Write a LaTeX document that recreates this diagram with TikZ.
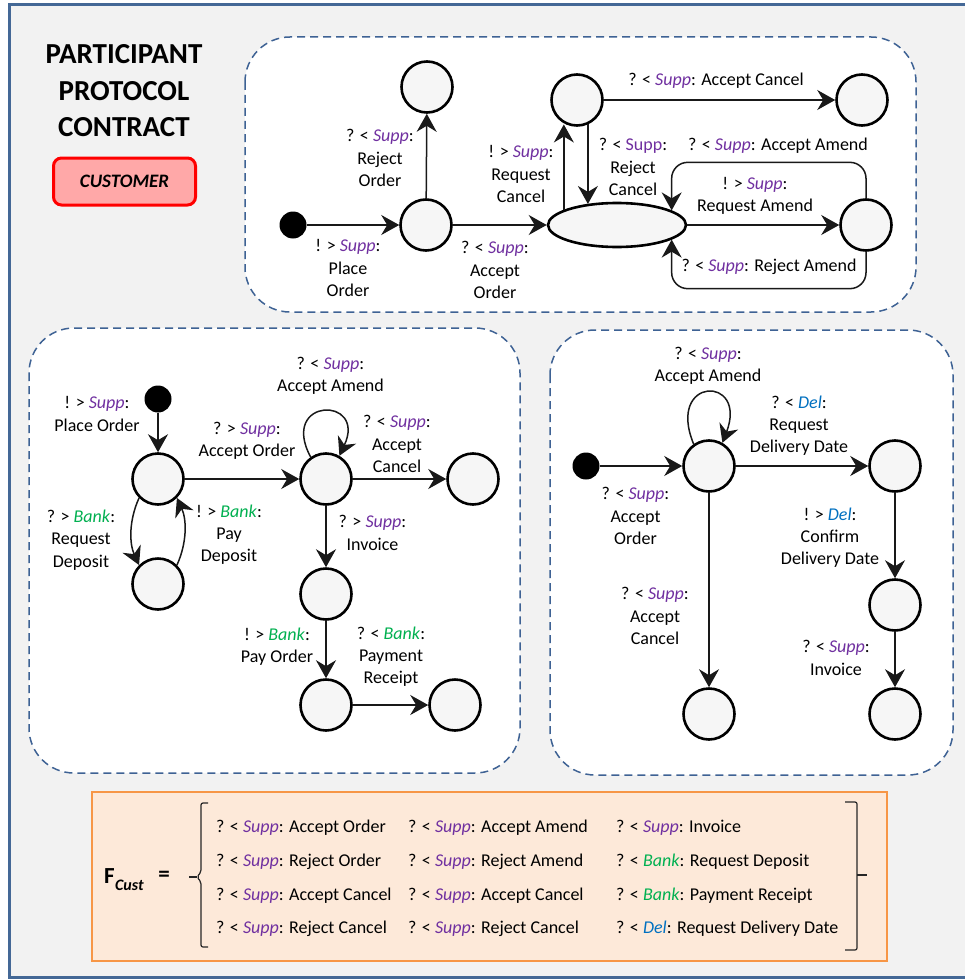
\documentclass[tikz,border=0pt]{standalone}
\usepackage{fontspec}
\setmainfont{Carlito}
\usetikzlibrary{arrows.meta,shapes.geometric,calc}
\definecolor{suppc}{RGB}{112,48,160}
\definecolor{bankc}{RGB}{0,176,80}
\definecolor{delc}{RGB}{0,112,192}
\definecolor{framec}{RGB}{68,104,150}
\definecolor{dashc}{RGB}{62,98,148}
\definecolor{bgc}{RGB}{242,242,242}
\definecolor{statec}{RGB}{246,246,246}
\definecolor{custfill}{RGB}{255,168,168}
\definecolor{formfill}{RGB}{253,233,217}
\definecolor{formline}{RGB}{247,150,70}
\newcommand{\SUPP}{\textcolor{suppc}{\textit{Supp}}}
\newcommand{\BANK}{\textcolor{bankc}{\textit{Bank}}}
\newcommand{\DELV}{\textcolor{delc}{\textit{Del}}}
\begin{document}
\begin{tikzpicture}[x=1pt,y=-1pt,
  every node/.style={inner sep=0pt},
  lbl/.style={align=center, font=\fontsize{18}{22.3}\selectfont},
  state/.style={circle, draw=black, line width=2.6pt, fill=statec, minimum size=51pt},
  initdot/.style={circle, fill=black, minimum size=27pt},
  tr/.style={line width=1.5pt, draw=black!90, -{Stealth[length=18pt,width=20pt,inset=6pt]}},
  region/.style={draw=dashc, line width=1.5pt, dash pattern=on 8pt off 5pt, fill=white, rounded corners=45pt},
  formcol/.style={anchor=west, align=left, font=\fontsize{18}{33.7}\selectfont}]

\useasboundingbox (0,0) rectangle (965,979);
\fill[white] (0,0) rectangle (965,979);
\draw[framec, line width=3pt, fill=bgc] (9.5,4.5) rectangle (1000,977.5);

% regions
\draw[region] (245,37) rectangle (916,312);
\draw[region] (29,328) rectangle (520,773);
\draw[region] (550,330) rectangle (953,775);
\draw[formline, line width=2pt, fill=formfill] (92,792) rectangle (887,961);

% title
\node[align=center, font=\fontsize{29}{36.5}\selectfont\bfseries] (title) at (124,91) {PARTICIPANT\\PROTOCOL\\CONTRACT};
\node[draw=red, line width=3pt, fill=custfill, rounded corners=8pt, minimum width=142pt, minimum height=47pt, font=\fontsize{19}{19}\selectfont\bfseries\itshape] (cust) at (124.5,181.5) {CUSTOMER};

% ---------- top protocol ----------
\node[initdot] (t0) at (293,225) {};
\node[state] (ta) at (426,225) {};
\node[state] (tro) at (427,87) {};
\node[state] (trc) at (577,100) {};
\node[state] (tac) at (862,100) {};
\node[ellipse, draw=black, line width=2.6pt, fill=statec, minimum width=138pt, minimum height=44pt] (tel) at (617,225) {};
\node[state] (tam) at (866,225) {};

\draw[tr] (t0) -- (ta);
\draw[tr] (ta) -- (tro);
\draw[tr] (ta) -- (tel);
\draw[tr] (tel.164) -- (tel.164 |- trc.246);
\draw[tr] (trc.294) -- (trc.294 |- tel.145);
\draw[tr] (trc) -- (tac);
\draw[tr] (tel) -- (tam);
\draw[tr, rounded corners=16pt] (tam.north) |- ($(tel.15)+(0,-48)$) -- (tel.15);
\draw[tr, rounded corners=16pt] (tam.south) |- ($(tel.-15)+(0,49)$) -- (tel.-15);

\node[lbl] (tl1) at (348,268) {! > \SUPP:\\Place\\Order};
\node[lbl] (tl2) at (380,158) {? < \SUPP:\\Reject\\Order};
\node[lbl] (tl3) at (495,270) {? < \SUPP:\\Accept\\Order};
\node[lbl] (tl4) at (521,174) {! > \SUPP:\\Request\\Cancel};
\node[lbl] (tl5) at (633,167) {? < \textcolor{suppc}{Supp}:\\Reject\\Cancel};
\node[lbl] (tl6) at (716,81) {? < \SUPP: Accept Cancel};
\node[lbl] (tl7) at (755,196) {! > \SUPP:\\Request Amend};
\node[lbl] (tl8) at (778,146) {? < \SUPP: Accept Amend};
\node[lbl] (tl9) at (769,267) {? < \SUPP: Reject Amend};

% ---------- bottom-left protocol ----------
\node[initdot] (b0) at (158,399) {};
\node[state] (b1) at (158,479) {};
\node[state] (b2) at (158,584) {};
\node[state] (b3) at (326,479) {};
\node[state] (b4) at (473,479) {};
\node[state] (b5) at (326,594) {};
\node[state] (b6) at (326,705) {};
\node[state] (b7) at (455,705) {};

\draw[tr] (b0) -- (b1);
\draw[tr] (b1) -- (b3);
\draw[tr] (b1.225) .. controls +(-10,22) and +(-10,-22) .. (b2.135);
\draw[tr] (b2.45) .. controls +(10,-22) and +(10,22) .. (b1.-45);
\draw[tr] (b3.125) .. controls +(-32,-60) and +(28,-60) .. (b3.60);
\draw[tr] (b3) -- (b4);
\draw[tr] (b3) -- (b5);
\draw[tr] (b5) -- (b6);
\draw[tr] (b6) -- (b7);

\node[lbl] (bl1) at (97,414) {! > \SUPP:\\Place Order};
\node[lbl] (bl2) at (247,441) {? > \SUPP:\\Accept Order};
\node[lbl] (bl3) at (81,540) {? > \BANK:\\Request\\Deposit};
\node[lbl] (bl4) at (229,534.5) {! > \BANK:\\Pay\\Deposit};
\node[lbl] (bl5) at (330.5,376) {? < \SUPP:\\Accept Amend};
\node[lbl] (bl6) at (397,444) {? < \SUPP:\\Accept\\Cancel};
\node[lbl] (bl7) at (372.5,533) {? > \SUPP:\\Invoice};
\node[lbl] (bl8) at (277,646.5) {! > \BANK:\\Pay Order};
\node[lbl] (bl9) at (391,656.5) {? < \BANK:\\Payment\\Receipt};

% ---------- bottom-right protocol ----------
\node[initdot] (r0) at (586,466) {};
\node[state] (r1) at (709,466) {};
\node[state] (r2) at (895,466) {};
\node[state] (r3) at (895,605) {};
\node[state] (r4) at (709,714) {};
\node[state] (r5) at (895,714) {};

\draw[tr] (r0) -- (r1);
\draw[tr] (r1) -- (r2);
\draw[tr] (r2) -- (r3);
\draw[tr] (r3) -- (r5);
\draw[tr] (r1) -- (r4);
\draw[tr] (r1.125) .. controls +(-28,-68) and +(26,-68) .. (r1.60);

\node[lbl] (rl1) at (635.5,516) {? < \SUPP:\\Accept\\Order};
\node[lbl] (rl2) at (708,366) {? < \SUPP:\\Accept Amend};
\node[lbl] (rl3) at (799,425.5) {? < \DELV:\\Request\\Delivery Date};
\node[lbl] (rl4) at (830,537.5) {! > \DELV:\\Confirm\\Delivery Date};
\node[lbl] (rl5) at (655,616) {? < \SUPP:\\Accept\\Cancel};
\node[lbl] (rl6) at (836,658) {? < \SUPP:\\Invoice};

% ---------- formula ----------
\node[anchor=base west, font=\fontsize{23}{23}\selectfont\bfseries] (fF) at (104,883) {F};
\node[anchor=base west, font=\fontsize{16}{16}\selectfont\bfseries\itshape] (fsub) at ($(fF.base east)+(0,7)$) {Cust};
\node[font=\fontsize{23}{23}\selectfont\bfseries] (feq) at (164,876) {=};
\draw[black!85, line width=1.2pt, rounded corners=2pt] (208,803) -- (201,803) -- (201,872) -- (197,877) -- (201,882) -- (201,947) -- (208,947);
\draw[black!85, line width=1.2pt] (189,877) -- (197,877);
\draw[black!85, line width=1.2pt, rounded corners=2pt] (845,802) -- (857,802) -- (857,950) -- (845,950);
\draw[black!85, line width=1.2pt] (857,875) -- (867,875);

\node[formcol] (fc1) at (216,878.5) {? < \SUPP: Accept Order\\? < \SUPP: Reject Order\\? < \SUPP: Accept Cancel\\? < \SUPP: Reject Cancel};
\node[formcol] (fc2) at (408,878.5) {? < \SUPP: Accept Amend\\? < \SUPP: Reject Amend\\? < \SUPP: Accept Cancel\\? < \SUPP: Reject Cancel};
\node[formcol] (fc3) at (616,878.5) {? < \SUPP: Invoice\\? < \BANK: Request Deposit\\? < \BANK: Payment Receipt\\? < \DELV: Request Delivery Date};
\end{tikzpicture}
\end{document}
